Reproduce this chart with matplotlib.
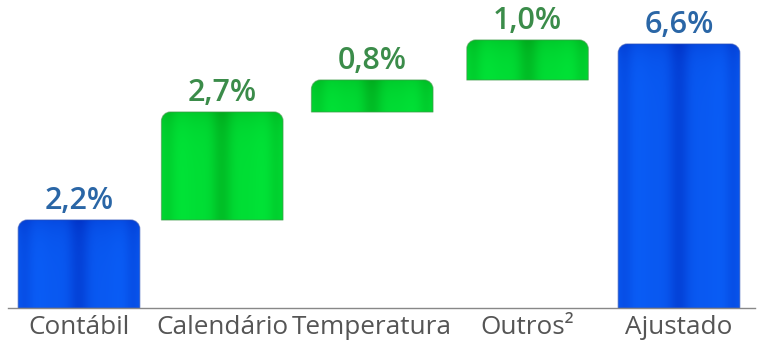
import numpy as np
import matplotlib
matplotlib.use("Agg")
import matplotlib.pyplot as plt
from matplotlib.path import Path
from matplotlib.patches import PathPatch

# Waterfall data: starting total, adjustments, adjusted total
categories = ["Contábil", "Calendário", "Temperatura", "Outros²", "Ajustado"]
values = [2.2, 2.7, 0.8, 1.0, 6.6]
kinds = ["total", "delta", "delta", "delta", "total"]
value_labels = ["2,2%", "2,7%", "0,8%", "1,0%", "6,6%"]

# Horizontal slot for each category on the x axis
x_slots = [0.0, 0.955, 1.955, 2.99, 4.0]

W, H, DPI = 761, 354, 100
fig = plt.figure(figsize=(W / DPI, H / DPI), dpi=DPI)
fig.patch.set_facecolor("white")

ax_left_px, ax_right_px, base_px = 8, 755, 308
ax = fig.add_axes([ax_left_px / W, (H - base_px) / H,
                   (ax_right_px - ax_left_px) / W, base_px / H])

px_per_x = 150.0
px_per_y = 40.0
xmin = -(79 - ax_left_px) / px_per_x
ax.set_xlim(xmin, xmin + (ax_right_px - ax_left_px) / px_per_x)
ax.set_ylim(0, base_px / px_per_y)

palette = {
    "total": {"bright": np.array([0.04, 0.37, 0.97]), "dark": np.array([0.00, 0.18, 0.76]),
              "edge": "#2a4fb8", "text": "#2a66a6"},
    "delta": {"bright": np.array([0.00, 0.90, 0.22]), "dark": np.array([0.00, 0.64, 0.10]),
              "edge": "#3b9a45", "text": "#3b8c4a"},
}

bar_w = 0.81
r_px = 9.0


def rounded_top_path(x0, x1, y0, y1):
    rx = r_px / px_per_x
    ry = min(r_px / px_per_y, (y1 - y0) / 2)
    k = 0.5523
    verts = [
        (x0, y0), (x0, y1 - ry),
        (x0, y1 - ry + k * ry), (x0 + rx - k * rx, y1), (x0 + rx, y1),
        (x1 - rx, y1),
        (x1 - rx + k * rx, y1), (x1, y1 - ry + k * ry), (x1, y1 - ry),
        (x1, y0), (x0, y0),
    ]
    codes = [Path.MOVETO, Path.LINETO,
             Path.CURVE4, Path.CURVE4, Path.CURVE4,
             Path.LINETO,
             Path.CURVE4, Path.CURVE4, Path.CURVE4,
             Path.LINETO, Path.CLOSEPOLY]
    return Path(verts, codes)


def shaded_image(h_px, style):
    cols = 160
    rows = max(int(h_px), 4)
    t = np.linspace(0, 1, cols)
    g = lambda c, s: np.exp(-((t - c) / s) ** 2)
    shade = 0.55 * g(0.5, 0.09) + 0.30 * g(0.05, 0.07) + 0.30 * g(0.95, 0.07) \
        + 0.10 * g(0.3, 0.12) + 0.10 * g(0.7, 0.12)
    shade = np.clip(shade, 0, 1)
    depth = np.arange(rows)[:, None]  # pixels below the bar top
    top_dark = 0.30 * np.exp(-depth / 14.0)
    s = np.clip(shade[None, :] + top_dark, 0, 1)
    img = style["bright"][None, None, :] * (1 - s[..., None]) + style["dark"][None, None, :] * s[..., None]
    return img


running = 0.0
for xc, cat, val, kind, lab in zip(x_slots, categories, values, kinds, value_labels):
    if kind == "total":
        bottom, top = 0.0, val
        running = val
    else:
        bottom, top = running, running + val
        running = top
    style = palette[kind]
    x0, x1 = xc - bar_w / 2, xc + bar_w / 2
    path = rounded_top_path(x0, x1, bottom, top)
    patch = PathPatch(path, facecolor="none", edgecolor=style["edge"], lw=0.9, alpha=0.6, zorder=3)
    ax.add_patch(patch)
    img = shaded_image((top - bottom) * px_per_y, style)
    im = ax.imshow(img, extent=[x0, x1, bottom, top], origin="upper",
                   aspect="auto", interpolation="bilinear", zorder=2)
    im.set_clip_path(patch)
    ax.annotate(lab, xy=(xc, top), xytext=(0, 3), textcoords="offset points",
                ha="center", va="bottom", fontsize=22, fontweight="semibold",
                color=style["text"], family="Open Sans")

ax.set_xticks(x_slots)
ax.set_xticklabels(categories, fontsize=18.8, color="#555555", family="Open Sans")
ax.tick_params(axis="x", length=0, pad=5)
ax.set_yticks([])
for side in ("top", "right", "left"):
    ax.spines[side].set_visible(False)
ax.spines["bottom"].set_color("#888888")
ax.spines["bottom"].set_linewidth(1.0)
ax.spines["bottom"].set_zorder(4)
ax.set_facecolor("none")

fig.savefig("out.png", dpi=DPI)
